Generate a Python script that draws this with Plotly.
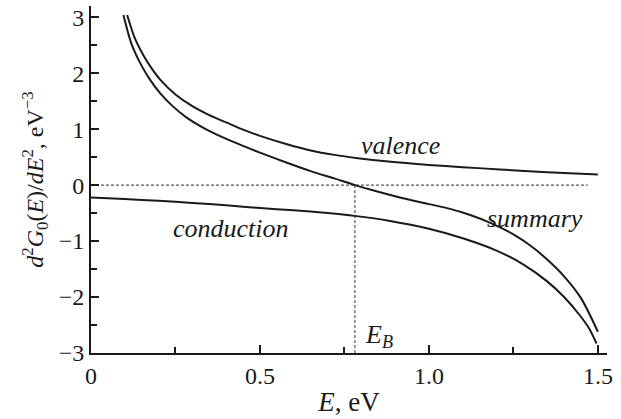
import plotly.graph_objects as go

# Data
valence_E = [0.107, 0.13, 0.155, 0.18, 0.204, 0.25, 0.30, 0.35, 0.40, 0.45, 0.50, 0.58, 0.65, 0.72, 0.79, 0.88, 1.0, 1.1, 1.21, 1.35, 1.5]
valence_y = [3.04, 2.62, 2.32, 2.08, 1.89, 1.62, 1.41, 1.25, 1.12, 0.99, 0.88, 0.73, 0.62, 0.54, 0.48, 0.42, 0.36, 0.32, 0.28, 0.23, 0.19]

summary_E = [0.096, 0.12, 0.15, 0.175, 0.205, 0.24, 0.28, 0.33, 0.387, 0.45, 0.50, 0.58, 0.65, 0.72, 0.781, 0.85, 0.92, 1.0, 1.06, 1.12, 1.18, 1.25, 1.30, 1.35, 1.40, 1.45, 1.5]
summary_y = [3.04, 2.52, 2.13, 1.88, 1.64, 1.42, 1.22, 1.03, 0.86, 0.70, 0.58, 0.40, 0.25, 0.12, 0.0, -0.12, -0.23, -0.34, -0.42, -0.53, -0.67, -0.88, -1.08, -1.33, -1.63, -2.02, -2.62]

conduction_E = [0.0, 0.1, 0.2, 0.3, 0.4, 0.5, 0.6, 0.7, 0.78, 0.885, 1.0, 1.1, 1.2, 1.28, 1.35, 1.40, 1.447, 1.475, 1.496]
conduction_y = [-0.22, -0.25, -0.28, -0.32, -0.36, -0.41, -0.45, -0.50, -0.55, -0.64, -0.78, -0.95, -1.17, -1.42, -1.72, -2.0, -2.33, -2.57, -2.83]

E_B = 0.781
zero_line_E = [0.0, 1.47]
zero_line_y = [0.0, 0.0]

x_tickvals = [0, 0.5, 1.0, 1.5]
x_ticktext = ["0", "0.5", "1.0", "1.5"]
x_minor = [0.25, 0.75, 1.25]
y_tickvals = [-3, -2, -1, 0, 1, 2, 3]
y_minor = [-2.5, -1.5, -0.5, 0.5, 1.5, 2.5]

FONT = "'Liberation Serif', 'Times New Roman', serif"
line_style = dict(color="#1a1a1a", width=2, shape="spline", smoothing=0.8)

fig = go.Figure()
fig.add_trace(go.Scatter(x=zero_line_E, y=zero_line_y, mode="lines",
                         line=dict(color="#333", width=1, dash="3px,2px"), hoverinfo="skip"))
fig.add_trace(go.Scatter(x=[E_B, E_B], y=[0, -3], mode="lines",
                         line=dict(color="#333", width=1, dash="3px,2px"), hoverinfo="skip"))
fig.add_trace(go.Scatter(x=valence_E, y=valence_y, mode="lines", line=line_style))
fig.add_trace(go.Scatter(x=summary_E, y=summary_y, mode="lines", line=line_style))
fig.add_trace(go.Scatter(x=conduction_E, y=conduction_y, mode="lines", line=line_style))

ann_font = dict(family=FONT, size=26, color="#1a1a1a")
fig.add_annotation(x=0.917, y=0.71, text="<i>valence</i>", showarrow=False, font=ann_font)
fig.add_annotation(x=1.314, y=-0.59, text="<i>summary</i>", showarrow=False, font=ann_font)
fig.add_annotation(x=0.414, y=-0.77, text="<i>conduction</i>", showarrow=False, font=ann_font)
fig.add_annotation(x=0.852, y=-2.70, text="<i>E<sub>B</sub></i>", showarrow=False, font=ann_font)

fig.update_layout(
    width=621, height=419,
    margin=dict(l=91, r=14, t=6, b=66),
    plot_bgcolor="white", paper_bgcolor="white",
    showlegend=False,
    font=dict(family=FONT, size=24, color="#1a1a1a"),
)
fig.update_xaxes(
    range=[0, 1.527], showgrid=False, zeroline=False,
    showline=True, linecolor="#1a1a1a", linewidth=2,
    ticks="inside", ticklen=8, tickwidth=1.5, tickcolor="#1a1a1a",
    tickmode="array", tickvals=x_tickvals, ticktext=x_ticktext,
    tickfont=dict(family=FONT, size=24),
    minor=dict(ticks="inside", ticklen=6, tickwidth=1.5, tickcolor="#1a1a1a", tickmode="array", tickvals=x_minor),
    title=dict(text="<i>E</i>, eV", standoff=4, font=dict(family=FONT, size=27)),
)
fig.update_yaxes(
    range=[-3, 3.2], showgrid=False, zeroline=False,
    showline=True, linecolor="#1a1a1a", linewidth=2,
    ticks="inside", ticklen=8, tickwidth=1.5, tickcolor="#1a1a1a",
    tickmode="array", tickvals=y_tickvals,
    tickfont=dict(family=FONT, size=24),
    minor=dict(ticks="inside", ticklen=6, tickwidth=1.5, tickcolor="#1a1a1a", tickmode="array", tickvals=y_minor),
    title=dict(text="<i>d</i><sup>2</sup><i>G</i><sub>0</sub>(<i>E</i>)/<i>dE</i><sup>2</sup>, eV<sup>−3</sup>",
               standoff=8, font=dict(family=FONT, size=24)),
)

fig.write_html("out.html")
